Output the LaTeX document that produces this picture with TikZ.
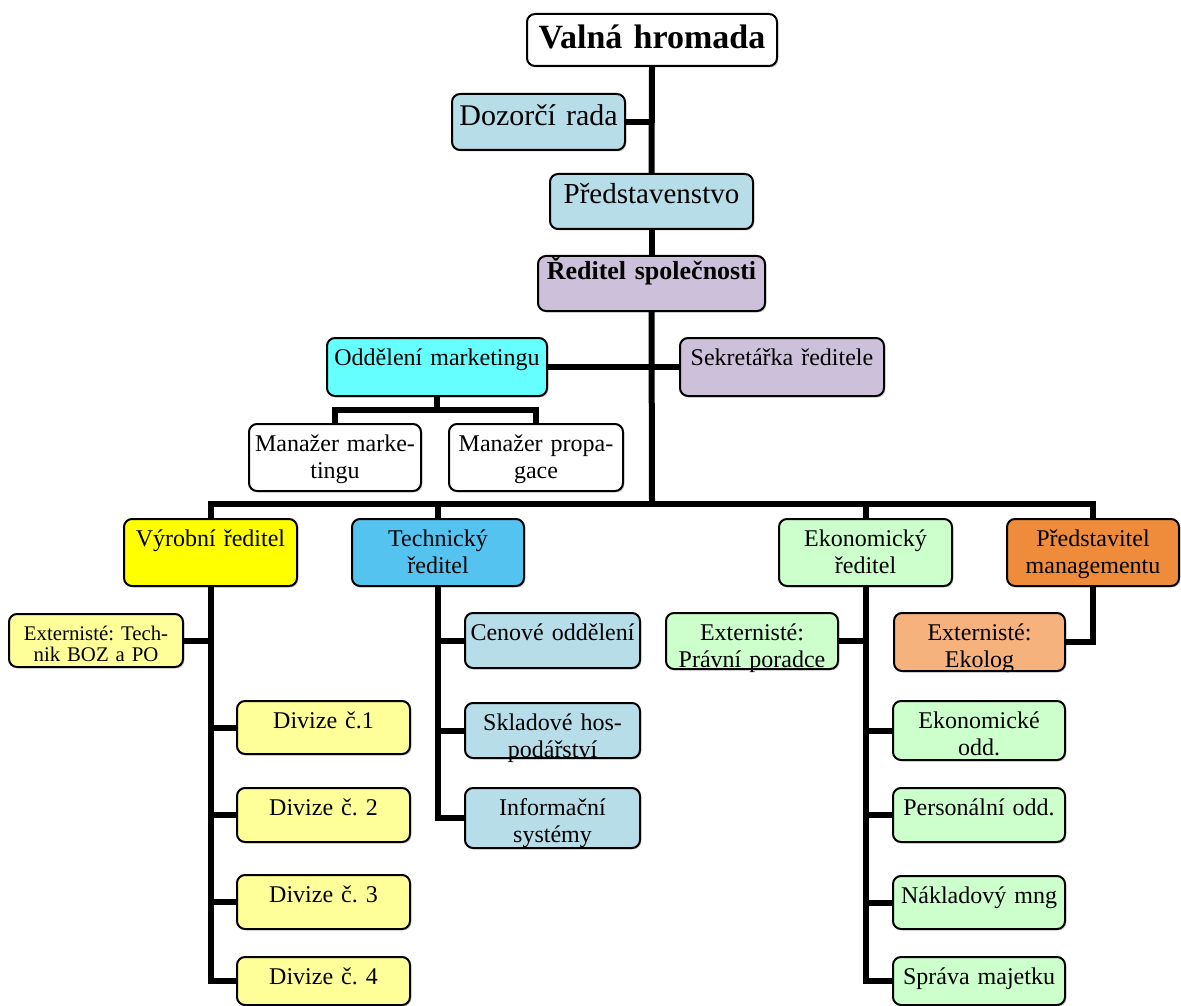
\documentclass[tikz,border=0pt]{standalone}
\usepackage{fontspec}
\setmainfont{Liberation Serif}
\usetikzlibrary{shadows}
\frenchspacing

\definecolor{modra}{RGB}{183,221,232}
\definecolor{fialova}{RGB}{204,192,218}
\definecolor{tyrkys}{RGB}{102,255,255}
\definecolor{zluta}{RGB}{255,255,0}
\definecolor{svzluta}{RGB}{255,255,153}
\definecolor{nebe}{RGB}{85,195,240}
\definecolor{zelena}{RGB}{204,255,204}
\definecolor{oranz}{RGB}{238,140,60}
\definecolor{svoranz}{RGB}{246,178,125}

\begin{document}
\begin{tikzpicture}[
    x=0.5pt,y=-0.5pt,
    box/.style={draw,line width=1pt,rounded corners=4pt,align=center,inner sep=0pt,
        anchor=north,text height=13.5pt,font=\fontsize{12}{13.75}\selectfont,
        drop shadow={shadow xshift=0.7pt,shadow yshift=-0.7pt,opacity=0.4}},
    bx/.style 2 args={text width=#1,text depth=#2},
    link/.style={line width=3pt}
]
\useasboundingbox (0,0) rectangle (1181,1005);

% vedeni
\node[box,bx={125pt}{8.5pt},fill=white,text height=17.5pt,
    font=\fontsize{17}{20}\selectfont\bfseries] (vh) at (652,13) {Valná hromada};
\node[box,bx={86.5pt}{12pt},fill=modra,text height=16pt,
    font=\fontsize{15}{17}\selectfont] (dr) at (538.5,93) {Dozorčí rada};
\node[box,bx={101.5pt}{12.5pt},fill=modra,text height=15pt,
    font=\fontsize{14.5}{17}\selectfont] (pr) at (651.5,173) {Představenstvo};
\node[box,bx={113.5pt}{16pt},fill=fialova,text height=11.5pt,
    font=\fontsize{13}{15}\selectfont\bfseries] (rs) at (651.5,255) {Ředitel společnosti};

\node[box,bx={110pt}{15.5pt},fill=tyrkys] (om) at (437,337) {Oddělení marketingu};
\node[box,bx={102pt}{15.5pt},fill=fialova] (sk) at (782,337) {Sekretářka ředitele};
\node[box,bx={86pt}{20pt},fill=white] (mm) at (335,423) {Manažer marke-\\tingu};
\node[box,bx={87pt}{20pt},fill=white] (mp) at (536,423) {Manažer propa-\\gace};

% reditele
\node[box,bx={86.5pt}{20pt},fill=zluta] (vr) at (210.5,518) {Výrobní ředitel};
\node[box,bx={86pt}{20pt},fill=nebe] (tr) at (438,518) {Technický\\ředitel};
\node[box,bx={86.5pt}{20pt},fill=zelena] (er) at (865.5,518) {Ekonomický\\ředitel};
\node[box,bx={86pt}{20pt},fill=oranz] (pm) at (1093,518) {Představitel\\managementu};

% vyroba
\node[box,bx={87pt}{13.5pt},fill=svzluta,text height=13pt,
    font=\fontsize{10.4}{10.5}\selectfont] (ext1) at (96,613) {Externisté: Tech-\\nik BOZ a PO};
\node[box,bx={86.5pt}{13pt},fill=svzluta] (d1) at (323.5,700) {Divize č.1};
\node[box,bx={86.5pt}{13.5pt},fill=svzluta] (d2) at (323.5,787) {Divize č. 2};
\node[box,bx={86.5pt}{13.5pt},fill=svzluta] (d3) at (323.5,874) {Divize č. 3};
\node[box,bx={86.5pt}{10.5pt},fill=svzluta] (d4) at (323.5,956) {Divize č. 4};

% technika
\node[box,bx={87.5pt}{14pt},fill=modra] (cen) at (552.5,612) {Cenové oddělení};
\node[box,bx={87.5pt}{14pt},fill=modra] (skl) at (552.5,702) {Skladové hos-\\podářství};
\node[box,bx={87.5pt}{16.5pt},fill=modra] (inf) at (552.5,787) {Informační\\systémy};

% ekonomika
\node[box,bx={86pt}{14.5pt},fill=zelena] (pp) at (752,612) {Externisté:\\Právní poradce};
\node[box,bx={86pt}{16pt},fill=zelena] (eo) at (979,700) {Ekonomické\\odd.};
\node[box,bx={86pt}{13.5pt},fill=zelena] (po) at (979,787) {Personální odd.};
\node[box,bx={86pt}{13pt},fill=zelena] (nm) at (979,875) {Nákladový mng};
\node[box,bx={86pt}{10.5pt},fill=zelena] (sm) at (979,956) {Správa majetku};
\node[box,bx={85.5pt}{15.5pt},fill=svoranz] (eko) at (979.5,612) {Externisté:\\Ekolog};

% spojnice
\coordinate (bus) at (652,504);
\coordinate (omj) at (437,410);
\draw[link] (vh.south) -- (pr.north);
\draw[link] (pr.south) -- (rs.north);
\draw[link] (dr.east) -- (dr.east -| vh.south);
\draw[link] (rs.south) -- (bus);
\draw[link] (om.east) -- (sk.west);
\draw[link] (om.south) -- (omj);
\draw[link] (mm.north) |- (omj) -| (mp.north);
\draw[link] (vr.north) |- (bus) -| (pm.north);
\draw[link] (tr.north) -- (tr.north |- bus);
\draw[link] (er.north) -- (er.north |- bus);

\draw[link] (vr.south) |- (d4.west);
\foreach \n in {d1,d2,d3}
    \draw[link] (vr.south |- \n.west) -- (\n.west);
\draw[link] (vr.south |- ext1.east) -- (ext1.east);

\draw[link] (tr.south) |- (inf.west);
\foreach \n in {cen,skl}
    \draw[link] (tr.south |- \n.west) -- (\n.west);

\draw[link] (er.south) |- (sm.west);
\foreach \n in {eo,po,nm}
    \draw[link] (er.south |- \n.west) -- (\n.west);
\draw[link] (er.south |- pp.east) -- (pp.east);

\draw[link] (pm.south) |- (eko.east);
\end{tikzpicture}
\end{document}
